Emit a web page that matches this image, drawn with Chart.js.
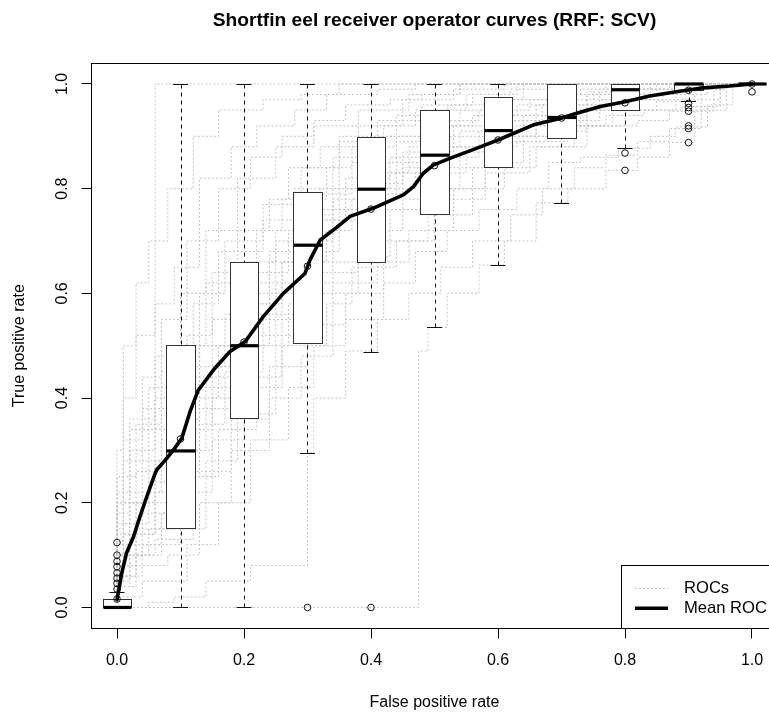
<!DOCTYPE html>
<html>
<head>
<meta charset="utf-8">
<script src="https://cdn.jsdelivr.net/npm/chart.js@4.4.0/dist/chart.umd.min.js"></script>
<style>
html,body{margin:0;padding:0;overflow:hidden;background:#fff;width:769px;height:713px;}
#wrap{position:absolute;left:0;top:0;width:800px;height:713px;}
canvas{display:block;}
</style>
</head>
<body>
<div id="wrap"><canvas id="c" width="800" height="713" style="width:800px;height:713px"></canvas></div>
<script>
// ---------------- DATA ----------------
const chartTitle = 'Shortfin eel receiver operator curves (RRF: SCV)';
const xAxisTitle = 'False positive rate';
const yAxisTitle = 'True positive rate';
const tickValues = [0, 0.2, 0.4, 0.6, 0.8, 1.0];
const tickLabels = ['0.0', '0.2', '0.4', '0.6', '0.8', '1.0'];
const legendLabels = ['ROCs', 'Mean ROC'];

// individual ROC curves (false positive rate, true positive rate) step corners
const roc01 = [[0,0],[0.02,0.05],[0.04,0.1],[0.06,0.14],[1,1]];
const roc02 = [[0,0],[0.475,0],[0.49,0.49],[0.52,0.535],[0.57,0.6],[0.61,0.654],[0.66,0.7],[0.71,0.773],[0.77,0.8],[0.82,0.835],[0.87,0.86],[0.91,0.888],[0.96,0.95],[1,1]];
const roc03 = [[0,0],[0.05,0],[0.09,0.01],[0.14,0.02],[0.21,0.05],[0.3,0.08],[0.31,0.296],[0.36,0.4],[0.41,0.49],[0.46,0.55],[0.51,0.6],[0.56,0.65],[0.62,0.7],[0.67,0.75],[0.72,0.8],[0.77,0.84],[0.82,0.864],[0.87,0.89],[0.92,0.915],[1,1]];
const roc04 = [[0,0],[0.04,0.02],[0.11,0.05],[0.16,0.12],[0.21,0.2],[0.27,0.32],[0.31,0.42],[0.36,0.5],[0.42,0.55],[0.47,0.62],[0.52,0.68],[0.57,0.72],[0.63,0.76],[0.68,0.8],[0.73,0.85],[0.79,0.86],[0.84,0.877],[0.88,0.9],[0.93,0.918],[0.97,0.96],[1,1]];
const roc05 = [[0,0],[0.02,0.04],[0.08,0.08],[0.13,0.1],[0.18,0.2],[0.24,0.3],[0.29,0.4],[0.34,0.48],[0.41,0.62],[0.46,0.66],[0.53,0.72],[0.61,0.8],[0.66,0.84],[0.74,0.88],[0.82,0.92],[0.87,0.93],[0.94,0.948],[1,1]];
const roc06 = [[0,0],[0.03,0.06],[0.06,0.1],[0.12,0.13],[0.16,0.25],[0.22,0.34],[0.26,0.42],[0.33,0.5],[0.37,0.58],[0.44,0.65],[0.49,0.7],[0.56,0.75],[0.62,0.84],[0.71,0.89],[0.77,0.92],[0.83,0.94],[0.89,0.95],[0.95,0.957],[1,1]];
const roc07 = [[0,0],[0.01,0.05],[0.05,0.1],[0.14,0.15],[0.19,0.28],[0.25,0.37],[0.32,0.52],[0.38,0.6],[0.43,0.67],[0.51,0.76],[0.58,0.8],[0.64,0.85],[0.72,0.9],[0.76,0.93],[0.85,0.95],[0.91,0.967],[1,1]];
const roc08 = [[0,0],[0.02,0.08],[0.07,0.12],[0.11,0.18],[0.15,0.3],[0.21,0.4],[0.27,0.5],[0.31,0.58],[0.39,0.66],[0.42,0.72],[0.48,0.76],[0.54,0.8],[0.61,0.87],[0.69,0.9],[0.74,0.91],[0.81,0.96],[0.86,0.97],[0.93,0.98],[1,1]];
const roc09 = [[0,0],[0.03,0.1],[0.09,0.15],[0.12,0.22],[0.17,0.35],[0.23,0.45],[0.28,0.55],[0.34,0.62],[0.41,0.76],[0.47,0.8],[0.55,0.83],[0.63,0.88],[0.68,0.9],[0.78,0.92],[0.83,0.975],[0.96,0.99],[1,1]];
const roc10 = [[0,0],[0.01,0.06],[0.04,0.14],[0.08,0.18],[0.13,0.25],[0.18,0.38],[0.22,0.48],[0.26,0.56],[0.33,0.66],[0.37,0.72],[0.44,0.78],[0.52,0.85],[0.59,0.88],[0.66,0.9],[0.74,0.93],[0.82,0.985],[0.94,0.99],[1,1]];
const roc11 = [[0,0],[0.02,0.12],[0.06,0.2],[0.11,0.28],[0.16,0.4],[0.24,0.5],[0.29,0.6],[0.35,0.68],[0.43,0.8],[0.49,0.83],[0.57,0.86],[0.64,0.91],[0.72,0.94],[0.79,0.97],[0.87,0.99],[0.91,1],[1,1]];
const roc12 = [[0,0],[0.01,0.1],[0.05,0.16],[0.09,0.24],[0.14,0.3],[0.19,0.44],[0.25,0.52],[0.31,0.7],[0.38,0.76],[0.45,0.81],[0.53,0.87],[0.61,0.92],[0.69,0.94],[0.76,0.95],[0.84,0.99],[0.93,1],[1,1]];
const roc13 = [[0,0],[0.02,0.14],[0.07,0.22],[0.12,0.32],[0.17,0.46],[0.21,0.56],[0.27,0.64],[0.32,0.72],[0.39,0.8],[0.42,0.84],[0.51,0.9],[0.56,0.92],[0.63,0.94],[0.71,0.96],[0.77,0.98],[0.86,1],[1,1]];
const roc14 = [[0,0],[0.01,0.12],[0.04,0.2],[0.08,0.28],[0.13,0.36],[0.18,0.5],[0.24,0.6],[0.29,0.68],[0.34,0.75],[0.41,0.86],[0.49,0.9],[0.54,0.92],[0.62,0.95],[0.68,0.97],[0.73,0.98],[0.8,0.99],[0.88,1],[1,1]];
const roc15 = [[0,0],[0.02,0.18],[0.06,0.3],[0.11,0.4],[0.15,0.52],[0.22,0.64],[0.26,0.72],[0.33,0.78],[0.37,0.84],[0.44,0.88],[0.52,0.94],[0.58,0.96],[0.64,0.97],[0.71,1],[1,1]];
const roc16 = [[0,0],[0.01,0.15],[0.03,0.25],[0.07,0.35],[0.12,0.45],[0.16,0.58],[0.23,0.68],[0.28,0.74],[0.35,0.8],[0.42,0.9],[0.47,0.92],[0.55,0.95],[0.62,0.98],[0.69,0.99],[0.75,1],[1,1]];
const roc17 = [[0,0],[0.02,0.22],[0.05,0.34],[0.09,0.42],[0.14,0.5],[0.19,0.62],[0.24,0.72],[0.27,0.78],[0.32,0.84],[0.38,0.88],[0.45,0.92],[0.53,0.97],[0.61,0.99],[0.67,1],[1,1]];
const roc18 = [[0,0],[0.01,0.2],[0.04,0.32],[0.07,0.44],[0.11,0.55],[0.16,0.7],[0.21,0.8],[0.26,0.86],[0.31,0.9],[0.36,0.93],[0.43,0.96],[0.48,0.97],[0.54,0.98],[0.6,1],[1,1]];
const roc19 = [[0,0],[0.01,0.25],[0.03,0.4],[0.06,0.52],[0.09,0.58],[0.13,0.65],[0.18,0.82],[0.22,0.88],[0.28,0.92],[0.33,0.95],[0.41,0.98],[0.47,0.99],[0.52,1],[1,1]];
const roc20 = [[0,0],[0.01,0.3],[0.03,0.5],[0.05,0.62],[0.08,0.7],[0.12,0.8],[0.16,0.9],[0.23,0.95],[0.29,0.97],[0.35,0.98],[0.42,1],[1,1]];
const roc21 = [[0,0],[0.03,0.08],[0.08,0.2],[0.12,0.3],[0.18,0.42],[0.22,0.54],[0.28,0.62],[0.34,0.7],[0.4,0.78],[0.46,0.83],[0.54,0.88],[0.6,0.91],[0.67,0.93],[0.75,0.96],[0.85,0.98],[0.92,1],[1,1]];
const roc22 = [[0,0],[0.02,0.1],[0.05,0.2],[0.1,0.34],[0.15,0.44],[0.2,0.55],[0.25,0.66],[0.3,0.72],[0.37,0.79],[0.44,0.85],[0.5,0.89],[0.57,0.93],[0.65,0.95],[0.72,0.97],[0.8,1],[1,1]];
const roc23 = [[0,0],[0.04,0.06],[0.1,0.12],[0.15,0.22],[0.2,0.32],[0.26,0.44],[0.32,0.56],[0.38,0.64],[0.45,0.72],[0.5,0.78],[0.58,0.84],[0.66,0.89],[0.73,0.92],[0.8,0.95],[0.88,0.97],[0.95,0.99],[1,1]];
const roc24 = [[0,0],[0.01,0.16],[0.04,0.28],[0.08,0.38],[0.13,0.48],[0.17,0.6],[0.23,0.7],[0.29,0.77],[0.35,0.84],[0.41,0.89],[0.48,0.93],[0.56,0.96],[0.63,0.98],[0.7,1],[1,1]];
const roc25 = [[0,0],[0.03,0.04],[0.07,0.1],[0.12,0.18],[0.18,0.26],[0.24,0.36],[0.3,0.46],[0.36,0.54],[0.42,0.6],[0.5,0.7],[0.58,0.78],[0.65,0.83],[0.72,0.88],[0.8,0.92],[0.88,0.95],[0.95,0.97],[1,1]];
const roc26 = [[0,0],[0.02,0.2],[0.06,0.36],[0.1,0.48],[0.14,0.6],[0.19,0.72],[0.25,0.82],[0.31,0.88],[0.38,0.92],[0.46,0.95],[0.54,0.98],[0.62,1],[1,1]];
const roc27 = [[0,0],[0.02,0.06],[0.06,0.14],[0.1,0.22],[0.15,0.34],[0.21,0.46],[0.26,0.58],[0.32,0.66],[0.39,0.74],[0.45,0.79],[0.52,0.84],[0.6,0.88],[0.68,0.92],[0.76,0.95],[0.84,0.97],[0.92,0.99],[1,1]];
const roc28 = [[0,0],[0.01,0.08],[0.03,0.16],[0.07,0.26],[0.13,0.38],[0.19,0.5],[0.24,0.58],[0.3,0.66],[0.36,0.74],[0.43,0.82],[0.5,0.86],[0.58,0.9],[0.66,0.93],[0.74,0.96],[0.82,0.98],[0.9,1],[1,1]];
const rocCurves = [roc01,roc02,roc03,roc04,roc05,roc06,roc07,roc08,roc09,roc10,roc11,roc12,roc13,roc14,
                   roc15,roc16,roc17,roc18,roc19,roc20,roc21,roc22,roc23,roc24,roc25,roc26,roc27,roc28];

// mean ROC curve
const meanFpr = [0, 0.0074, 0.015, 0.026, 0.036, 0.047, 0.06, 0.0625, 0.075, 0.089, 0.102, 0.115, 0.128, 0.152, 0.178, 0.202, 0.23, 0.262, 0.296, 0.304, 0.32, 0.345, 0.367, 0.404, 0.451, 0.467, 0.482, 0.498, 0.524, 0.566, 0.6, 0.656, 0.698, 0.724, 0.761, 0.8, 0.839, 0.881, 0.918, 0.965, 1.0];
const meanTpr = [0.015, 0.065, 0.104, 0.135, 0.173, 0.212, 0.256, 0.263, 0.28, 0.301, 0.323, 0.374, 0.415, 0.454, 0.489, 0.508, 0.555, 0.6, 0.638, 0.664, 0.702, 0.725, 0.747, 0.763, 0.788, 0.804, 0.829, 0.845, 0.858, 0.877, 0.893, 0.922, 0.934, 0.944, 0.957, 0.966, 0.977, 0.985, 0.992, 0.996, 1.0];

// boxplots of true positive rate at fixed false positive rates
const boxX          = [0,     0.1,   0.2,   0.3,   0.4,   0.5,   0.6,   0.7,   0.8,   0.9,   1.0];
const boxWhiskerLow = [0,     0,     0,     0.296, 0.488, 0.535, 0.654, 0.773, 0.877, 0.967, 1.0];
const boxQ1         = [0,     0.151, 0.361, 0.506, 0.659, 0.751, 0.841, 0.896, 0.95,  0.989, 1.0];
const boxMedian     = [0,     0.299, 0.5,   0.692, 0.799, 0.864, 0.911, 0.936, 0.989, 1.0,   1.0];
const boxQ3         = [0.016, 0.501, 0.659, 0.794, 0.899, 0.95,  0.976, 1.0,   1.0,   1.0,   1.0];
const boxWhiskerHigh= [0.029, 1,     1,     1,     1,     1,     1,     1,     1,     1,     1.0];
const meanPointY    = [0.016, 0.322, 0.507, 0.652, 0.761, 0.844, 0.893, 0.935, 0.964, 0.988, 1.0];
const outlierX = [0, 0, 0, 0, 0, 0, 0, 0, 0.3, 0.4, 0.8, 0.8, 0.9, 0.9, 0.9, 0.9, 0.9, 0.9, 1.0];
const outlierY = [0.124, 0.1, 0.088, 0.078, 0.066, 0.056, 0.046, 0.035, 0, 0, 0.868, 0.835, 0.963, 0.955, 0.948, 0.92, 0.915, 0.888, 0.985];

// ---------------- STYLE ----------------
const FONT = "'Liberation Sans', Arial, Helvetica, sans-serif";
const GREY = '#c3c3c3';
const boxHalfWidth = 0.0228;   // in axis units
const capRatio = 0.52;

Chart.defaults.font.family = FONT;
Chart.defaults.font.size = 16;
Chart.defaults.color = '#000';

const firstRocIndex = 2;

function drawBoxes(chart) {
  const ctx = chart.ctx, xs = chart.scales.x, ys = chart.scales.y;
  ctx.save();
  for (let i = 0; i < boxX.length; i++) {
    const cx = xs.getPixelForValue(boxX[i]);
    const hw = xs.getPixelForValue(boxX[i] + boxHalfWidth) - cx;
    const yLo = Math.round(ys.getPixelForValue(boxWhiskerLow[i])) + 0.5;
    const yQ1 = Math.round(ys.getPixelForValue(boxQ1[i])) + 0.5;
    const yMed = ys.getPixelForValue(boxMedian[i]);
    const yQ3 = Math.round(ys.getPixelForValue(boxQ3[i])) + 0.5;
    const yHi = Math.round(ys.getPixelForValue(boxWhiskerHigh[i])) + 0.5;
    const xw = Math.round(cx) + 0.5;
    ctx.strokeStyle = '#111';
    ctx.lineWidth = 1;
    ctx.setLineDash([4, 4]);
    ctx.beginPath();
    if (yHi < yQ3) { ctx.moveTo(xw, yHi); ctx.lineTo(xw, yQ3); }
    if (yLo > yQ1) { ctx.moveTo(xw, yLo); ctx.lineTo(xw, yQ1); }
    ctx.stroke();
    ctx.setLineDash([]);
    ctx.beginPath();
    ctx.moveTo(cx - hw * capRatio, yHi); ctx.lineTo(cx + hw * capRatio, yHi);
    ctx.moveTo(cx - hw * capRatio, yLo); ctx.lineTo(cx + hw * capRatio, yLo);
    ctx.stroke();
    const bl = Math.round(cx - hw) + 0.5, br = Math.round(cx + hw) + 0.5;
    ctx.fillStyle = '#fff';
    ctx.fillRect(bl, yQ3, br - bl, yQ1 - yQ3);
    ctx.strokeStyle = '#333';
    ctx.strokeRect(bl, yQ3, br - bl, yQ1 - yQ3);
    ctx.strokeStyle = '#000';
    ctx.lineWidth = 3.2;
    ctx.beginPath();
    ctx.moveTo(bl, yMed); ctx.lineTo(br, yMed);
    ctx.stroke();
  }
  ctx.restore();
}

const rocPlugin = {
  id: 'rocPlugin',
  afterDatasetDraw(chart, args) {
    if (args.index === firstRocIndex) drawBoxes(chart);
  },
  afterDraw(chart) {
    const ctx = chart.ctx, ca = chart.chartArea, ys = chart.scales.y;
    ctx.save();
    ctx.strokeStyle = '#000';
    ctx.lineWidth = 1;
    const l = Math.floor(ca.left) + 0.5, t = Math.floor(ca.top) + 0.5;
    const r = Math.floor(ca.right) + 0.5, b = Math.floor(ca.bottom) + 0.5;
    ctx.strokeRect(l, t, r - l, b - t);
    ctx.fillStyle = '#000';
    ctx.font = '16px ' + FONT;
    ctx.textAlign = 'center';
    ctx.textBaseline = 'alphabetic';
    ys.ticks.forEach((tk, i) => {
      const py = ys.getPixelForValue(tk.value);
      ctx.save();
      ctx.translate(ca.left - 25, py);
      ctx.rotate(-Math.PI / 2);
      ctx.fillText(tickLabels[i], 0, 0);
      ctx.restore();
    });
    const lw = 156.4, lh = 63.4;
    const L = ca.right - lw, T = ca.bottom - lh;
    const Lx = Math.floor(L) + 0.5, Ty = Math.floor(T) + 0.5;
    ctx.fillStyle = '#fff';
    ctx.fillRect(Lx, Ty, r - Lx, b - Ty);
    ctx.strokeStyle = '#000';
    ctx.lineWidth = 1;
    ctx.strokeRect(Lx, Ty, r - Lx, b - Ty);
    const rows = [T + 23, T + 43.3];
    ctx.strokeStyle = GREY;
    ctx.lineWidth = 1;
    ctx.setLineDash([2, 2]);
    ctx.beginPath(); ctx.moveTo(L + 14, Math.round(rows[0]) + 0.5); ctx.lineTo(L + 47, Math.round(rows[0]) + 0.5); ctx.stroke();
    ctx.setLineDash([]);
    ctx.strokeStyle = '#000';
    ctx.lineWidth = 3.5;
    ctx.beginPath(); ctx.moveTo(L + 14, rows[1]); ctx.lineTo(L + 47, rows[1]); ctx.stroke();
    ctx.fillStyle = '#000';
    ctx.font = '16.6px ' + FONT;
    ctx.textAlign = 'left';
    ctx.textBaseline = 'middle';
    ctx.fillText(legendLabels[0], L + 63, rows[0]);
    ctx.fillText(legendLabels[1], L + 63, rows[1]);
    ctx.restore();
  }
};

const datasets = [
  {
    label: legendLabels[1], type: 'line',
    data: meanFpr.map((x, i) => ({x: x, y: meanTpr[i]})),
    borderColor: '#000', borderWidth: 3.6, pointRadius: 0, fill: false, tension: 0,
    borderJoinStyle: 'round', borderCapStyle: 'round'
  },
  {
    label: 'points', type: 'scatter',
    data: boxX.map((x, i) => ({x: x, y: meanPointY[i]})).concat(outlierX.map((x, i) => ({x: x, y: outlierY[i]}))),
    pointStyle: 'circle', pointRadius: 3.3, borderColor: '#111', borderWidth: 1,
    backgroundColor: 'rgba(0,0,0,0)'
  }
].concat(rocCurves.map(c => ({
  label: legendLabels[0], type: 'line',
  data: c.map(p => ({x: p[0], y: p[1]})),
  borderColor: GREY, borderWidth: 1, borderDash: [2, 2], pointRadius: 0,
  stepped: 'after', fill: false
})));

function setTicks(scale) {
  scale.ticks = tickValues.map(v => ({value: v}));
}

new Chart(document.getElementById('c'), {
  type: 'scatter',
  data: {datasets: datasets},
  plugins: [rocPlugin],
  options: {
    responsive: false,
    animation: false,
    events: [],
    layout: {padding: {left: 0, right: 22.6, top: 0, bottom: 0}},
    plugins: {
      legend: {display: false},
      tooltip: {enabled: false},
      title: {
        display: true, text: chartTitle, fullSize: false, color: '#000',
        font: {size: 19.2, weight: 'bold', family: FONT, lineHeight: 1.2},
        padding: {top: 9, bottom: 31}
      }
    },
    scales: {
      x: {
        type: 'linear', min: -0.04, max: 1.04,
        afterBuildTicks: setTicks,
        afterFit: s => { s.height = 84.6; },
        border: {display: false},
        grid: {display: true, drawOnChartArea: false, drawTicks: true, tickLength: 10, color: '#000', lineWidth: 1},
        ticks: {padding: 12.5, maxRotation: 0, autoSkip: false, color: '#000',
                font: {size: 16, family: FONT},
                callback: (v, i) => tickLabels[i]},
        title: {display: true, text: xAxisTitle, color: '#000',
                font: {size: 16, family: FONT, lineHeight: 1.2},
                padding: {top: 0, bottom: 1}}
      },
      y: {
        type: 'linear', min: -0.04, max: 1.04,
        afterBuildTicks: setTicks,
        afterFit: s => { s.width = 91.6; },
        border: {display: false},
        grid: {display: true, drawOnChartArea: false, drawTicks: true, tickLength: 10, color: '#000', lineWidth: 1},
        ticks: {display: false},
        title: {display: true, text: yAxisTitle, color: '#000',
                font: {size: 16, family: FONT, lineHeight: 1.2},
                padding: {top: 9.7, bottom: 0}}
      }
    }
  }
});
</script>
</body>
</html>
